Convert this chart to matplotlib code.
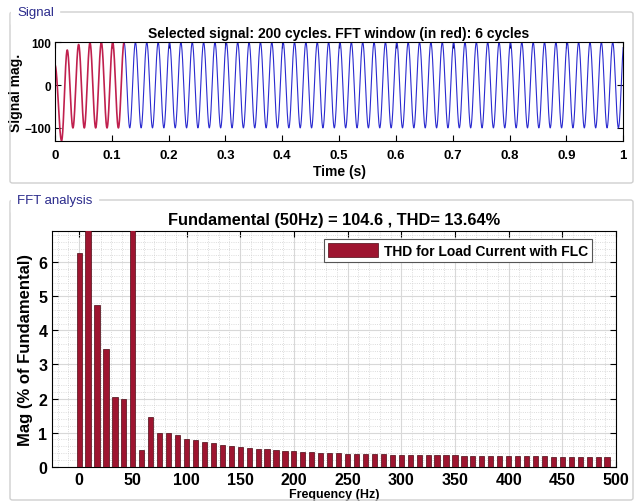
import numpy as np
import matplotlib
matplotlib.use('Agg')
import matplotlib.pyplot as plt
from matplotlib.patches import FancyBboxPatch
from matplotlib.ticker import MultipleLocator

plt.rcParams['font.family'] = ['Liberation Sans', 'DejaVu Sans']

# Сигнал: экстремумы в начале (переходный процесс), дальше установившаяся амплитуда
f0 = 50.0
t_start_value = 47.0
transient_extremes = [-130, 82, -100, 95, -100, 99, -100, 100]
steady_amp = 100.0
fft_window_end = 0.1216

# FFT: амплитуды гармоник в % от основной, шаг 1/0.12 с = 8.33 Гц
freq_step = 50.0 / 6
harm_mag = [6.28, 7.9, 4.75, 3.45, 2.05, 2.0, 100.0, 0.50, 1.47, 0.99,
            0.99, 0.92, 0.82, 0.79, 0.73, 0.69, 0.64, 0.60, 0.58, 0.56,
            0.53, 0.51, 0.49, 0.47, 0.45, 0.44, 0.42, 0.41, 0.40, 0.39,
            0.38, 0.37, 0.37, 0.36, 0.36, 0.35, 0.35, 0.34, 0.34, 0.34,
            0.33, 0.33, 0.33, 0.32, 0.32, 0.32, 0.31, 0.31, 0.31, 0.30,
            0.30, 0.30, 0.30, 0.29, 0.29, 0.29, 0.29, 0.28, 0.28, 0.28]

# Построение сигнала по экстремумам (полупериоды косинуса)
half = 1 / f0 / 2
ext_t = [0.0] + [0.0016 + n * half for n in range(1, 101)]
ext_v = [t_start_value]
for n in range(1, 101):
    if n - 1 < len(transient_extremes):
        ext_v.append(transient_extremes[n - 1])
    else:
        ext_v.append(steady_amp if n % 2 == 0 else -steady_amp)
t = np.linspace(0, 1, 5001)
sig = np.zeros_like(t)
for i in range(len(ext_t) - 1):
    a, b = ext_t[i], ext_t[i + 1]
    m = (t >= a) & (t <= b)
    ph = (t[m] - a) / (b - a)
    sig[m] = ext_v[i] + (ext_v[i + 1] - ext_v[i]) * (1 - np.cos(np.pi * ph)) / 2

fig = plt.figure(figsize=(6.37, 5.02), dpi=100)

# Рамки панелей
W, H = 637, 502
for (x0, y0, x1, y1), name in [((10, 13, 633, 184), 'Signal'),
                               ((10, 201, 633, 501), 'FFT analysis')]:
    fig.patches.append(FancyBboxPatch((x0 / W, 1 - y1 / H), (x1 - x0) / W, (y1 - y0) / H,
                                      boxstyle='round,pad=0,rounding_size=0.004',
                                      transform=fig.transFigure, fill=False,
                                      edgecolor='#cfcfcf', linewidth=1.0))
    fig.text(17 / W, 1 - y0 / H, name, fontsize=9.5, color='#2b2b8c',
             ha='left', va='center', backgroundcolor='white')

# Верхний график - сигнал
ax1 = fig.add_axes([0.0863, 0.7177, 0.892, 0.196])
red = t <= fft_window_end
blue = ~red | (np.abs(t - fft_window_end) < 1e-3)
ax1.plot(t[blue], sig[blue], color='#2a2ad0', linewidth=0.8)
ax1.plot(t[red], sig[red], color='#c0204e', linewidth=1.2)
ax1.set_xlim(0, 1)
ax1.set_ylim(-130, 100)
ax1.set_xticks(np.arange(0, 1.01, 0.1))
ax1.set_xticklabels(['0'] + ['%.1f' % v for v in np.arange(0.1, 0.95, 0.1)] + ['1'])
ax1.set_yticks([-100, 0, 100])
ax1.tick_params(direction='in', top=True, right=True, length=4)
ax1.tick_params(axis='x', pad=6, labelsize=9.5)
ax1.tick_params(axis='y', pad=3, labelsize=8.5)
for lab in ax1.get_xticklabels() + ax1.get_yticklabels():
    lab.set_fontweight('bold')
ax1.set_xlabel('Time (s)', fontsize=10, fontweight='bold', labelpad=2)
ax1.set_ylabel('Signal mag.', fontsize=10, fontweight='bold', labelpad=1)
ax1.set_title('Selected signal: 200 cycles. FFT window (in red): 6 cycles',
              fontsize=10, fontweight='bold', pad=4)

# Нижний график - FFT
ax2 = fig.add_axes([0.0821, 0.0683, 0.885, 0.469])
freqs = np.arange(len(harm_mag)) * freq_step
ax2.bar(freqs, harm_mag, width=freq_step * 0.58, color='#9e1530', edgecolor='#4a0a14',
        linewidth=0.5, label='THD for Load Current with FLC', zorder=3)
ax2.set_xlim(-25, 500)
ax2.set_ylim(0, 6.91)
ax2.set_xticks(np.arange(0, 501, 50))
ax2.set_yticks(np.arange(0, 7, 1))
ax2.xaxis.set_minor_locator(MultipleLocator(10))
ax2.yaxis.set_minor_locator(MultipleLocator(0.2))
ax2.grid(which='major', color='#d8d8d8', linewidth=0.8, zorder=0)
ax2.grid(which='minor', color='#d0d0d0', linestyle=':', linewidth=0.6, zorder=0)
ax2.set_axisbelow(True)
ax2.tick_params(which='major', direction='in', top=True, right=True, labelsize=11.5, length=4)
ax2.tick_params(which='minor', length=0)
for lab in ax2.get_xticklabels() + ax2.get_yticklabels():
    lab.set_fontweight('bold')
ax2.set_ylabel('Mag (% of Fundamental)', fontsize=12, fontweight='bold', labelpad=4)
ax2.set_xlabel('Frequency (Hz)', fontsize=9, fontweight='bold', labelpad=1)
ax2.set_title('Fundamental (50Hz) = 104.6 , THD= 13.64%', fontsize=11.8, fontweight='bold', pad=5)
leg = ax2.legend(loc='upper right', bbox_to_anchor=(0.957, 0.967),
                 prop={'weight': 'bold', 'size': 10}, fancybox=False, framealpha=1,
                 edgecolor='#555555', handlelength=3.6, handleheight=1.2,
                 borderpad=0.3, borderaxespad=0.0, handletextpad=0.4)
leg.get_frame().set_linewidth(0.8)

fig.savefig('out.png', dpi=100)
